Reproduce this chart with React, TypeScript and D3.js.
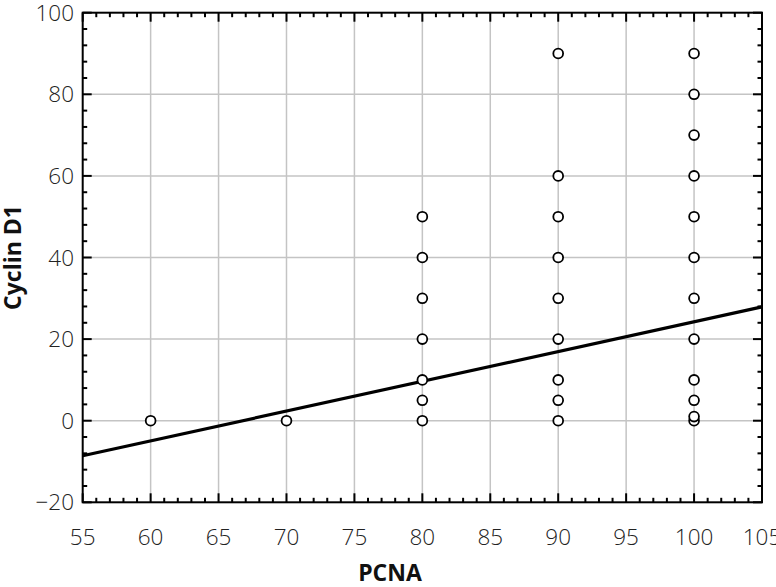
import React, { useEffect } from "react";
import * as d3 from "d3";

const pcna80 = [0, 5, 10, 20, 30, 40, 50];
const pcna90 = [0, 5, 10, 20, 30, 40, 50, 60, 90];
const pcna100 = [0, 1, 5, 10, 20, 30, 40, 50, 60, 70, 80, 90];
const xValues = [60, 70, ...pcna80.map(() => 80), ...pcna90.map(() => 90), ...pcna100.map(() => 100)];
const yValues = [0, 0, ...pcna80, ...pcna90, ...pcna100];
const fitX = [55, 105];
const fitY = [-8.6, 27.9];
const xTicks = [55, 60, 65, 70, 75, 80, 85, 90, 95, 100, 105];
const yTicks = [-20, 0, 20, 40, 60, 80, 100];

const W = 776, H = 587;
const L = 82.7, R = 762, T = 12.7, B = 502.3;
const FONT = "'Open Sans', 'Noto Sans', sans-serif";

export default function App() {
  useEffect(() => {
    document.body.style.margin = "0";
  }, []);
  const x = d3.scaleLinear().domain([55, 105]).range([L, R]);
  const y = d3.scaleLinear().domain([-20, 100]).range([B, T]);
  const minorX = d3.range(55, 106, 1);
  const minorY = d3.range(-20, 101, 4);
  const line = d3.line<number>().x((d) => x(fitX[d])).y((d) => y(fitY[d]));

  return (
    <svg width={W} height={H} style={{ display: "block", background: "#fff" }}>
      {xTicks.slice(1, -1).map((t) => (
        <line key={"gx" + t} x1={x(t)} x2={x(t)} y1={T} y2={B} stroke="#c4c4c4" strokeWidth={1.5} />
      ))}
      {yTicks.slice(1, -1).map((t) => (
        <line key={"gy" + t} x1={L} x2={R} y1={y(t)} y2={y(t)} stroke="#c4c4c4" strokeWidth={1.5} />
      ))}
      {minorX.map((t) => {
        const len = t % 5 === 0 ? 9 : 4.5;
        return (
          <g key={"tx" + t}>
            <line x1={x(t)} x2={x(t)} y1={B} y2={B - len} stroke="#000" strokeWidth={2} />
            <line x1={x(t)} x2={x(t)} y1={T} y2={T + len} stroke="#000" strokeWidth={2} />
          </g>
        );
      })}
      {minorY.map((t) => {
        const len = t % 20 === 0 ? 9 : 4.5;
        return (
          <g key={"ty" + t}>
            <line x1={L} x2={L + len} y1={y(t)} y2={y(t)} stroke="#000" strokeWidth={2} />
            <line x1={R} x2={R - len} y1={y(t)} y2={y(t)} stroke="#000" strokeWidth={2} />
          </g>
        );
      })}
      <path d={line([0, 1]) || ""} stroke="#000" strokeWidth={3.2} fill="none" />
      {xValues.map((v, i) => (
        <circle key={"p" + i} cx={x(v)} cy={y(yValues[i])} r={4.9} fill="#fff" stroke="#000" strokeWidth={1.8} />
      ))}
      <rect x={L} y={T} width={R - L} height={B - T} fill="none" stroke="#000" strokeWidth={2} />
      {xTicks.map((t) => (
        <text key={"lx" + t} x={x(t)} y={545} textAnchor="middle" fontFamily={FONT} fontWeight={300} fontSize={22.5} fill="#222">
          {t}
        </text>
      ))}
      {yTicks.map((t) => (
        <text key={"ly" + t} x={74} y={y(t)} dy="0.36em" textAnchor="end" fontFamily={FONT} fontWeight={300} fontSize={22.5} fill="#222">
          {t < 0 ? "\u2212" + Math.abs(t) : t}
        </text>
      ))}
      <text x={390} y={581} textAnchor="middle" fontFamily={FONT} fontWeight={700} fontSize={23} fill="#111">
        PCNA
      </text>
      <text transform={`translate(21,${(T + B) / 2}) rotate(-90)`} textAnchor="middle" fontFamily={FONT} fontWeight={700} fontSize={23} fill="#111">
        Cyclin D1
      </text>
    </svg>
  );
}
